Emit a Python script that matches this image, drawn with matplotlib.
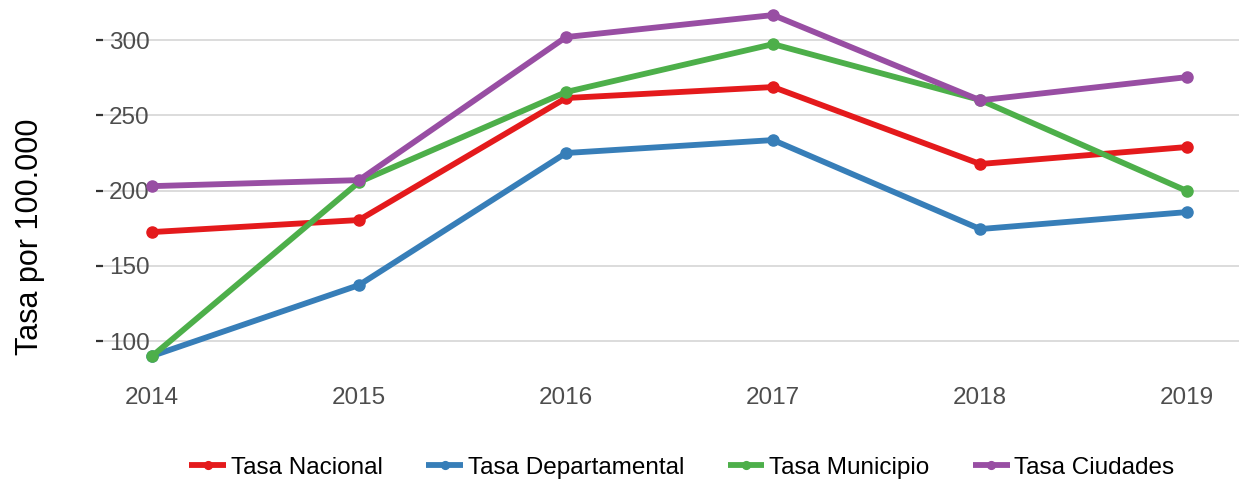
import matplotlib
matplotlib.use("Agg")
import matplotlib.pyplot as plt

plt.rcParams['font.family'] = ['Liberation Sans', 'DejaVu Sans']

years = [2014, 2015, 2016, 2017, 2018, 2019]
nacional = [172.5, 180.5, 261.5, 268.8, 217.7, 229.0]
departamental = [90.2, 137.3, 225.0, 233.6, 174.5, 185.8]
municipio = [90.0, 205.7, 265.5, 297.3, 260.2, 199.7]
ciudades = [203.0, 207.0, 302.0, 316.6, 260.0, 275.4]

series = [
    ("Tasa Nacional", nacional, "#E41A1C"),
    ("Tasa Departamental", departamental, "#377EB8"),
    ("Tasa Municipio", municipio, "#4DAF4A"),
    ("Tasa Ciudades", ciudades, "#984EA3"),
]
yticks = [100, 150, 200, 250, 300]

fig = plt.figure(figsize=(12.39, 4.87), dpi=100)
ax = fig.add_axes([96 / 1239, 112 / 487, 1 - 96 / 1239, 375 / 487])

for name, vals, col in series:
    ax.plot(years, vals, color=col, lw=4.2, marker='o', ms=8,
            solid_capstyle='butt', label=name)

ax.set_xlim(2013.73, 2019.25)
ax.set_ylim(77.6, 326.6)
ax.set_yticks(yticks)
ax.set_xticks(years)
ax.set_xticklabels([str(y) for y in years])

for s in ax.spines.values():
    s.set_visible(False)
ax.grid(axis='y', color='#d9d9d9', lw=1.3)
ax.set_axisbelow(True)

ax.tick_params(axis='x', length=0, pad=9, labelsize=17.5, labelcolor='#4d4d4d')
ax.tick_params(axis='y', direction='in', length=5, width=1.6, color='#333333',
               pad=-9.4, labelsize=17.5, labelcolor='#4d4d4d')
for lab in ax.get_yticklabels():
    lab.set_horizontalalignment('left')

fig.text(30 / 1239, 0.513, "Tasa por 100.000", rotation=90, ha='center',
         va='center', fontsize=22, color='black')

fig.legend(loc='center', bbox_to_anchor=(682 / 1239, 0.04), ncol=4,
           frameon=False, fontsize=17.5, handlelength=1.5, handletextpad=0.2,
           columnspacing=1.8, markerscale=0.7)

fig.savefig("out.png", dpi=100)
